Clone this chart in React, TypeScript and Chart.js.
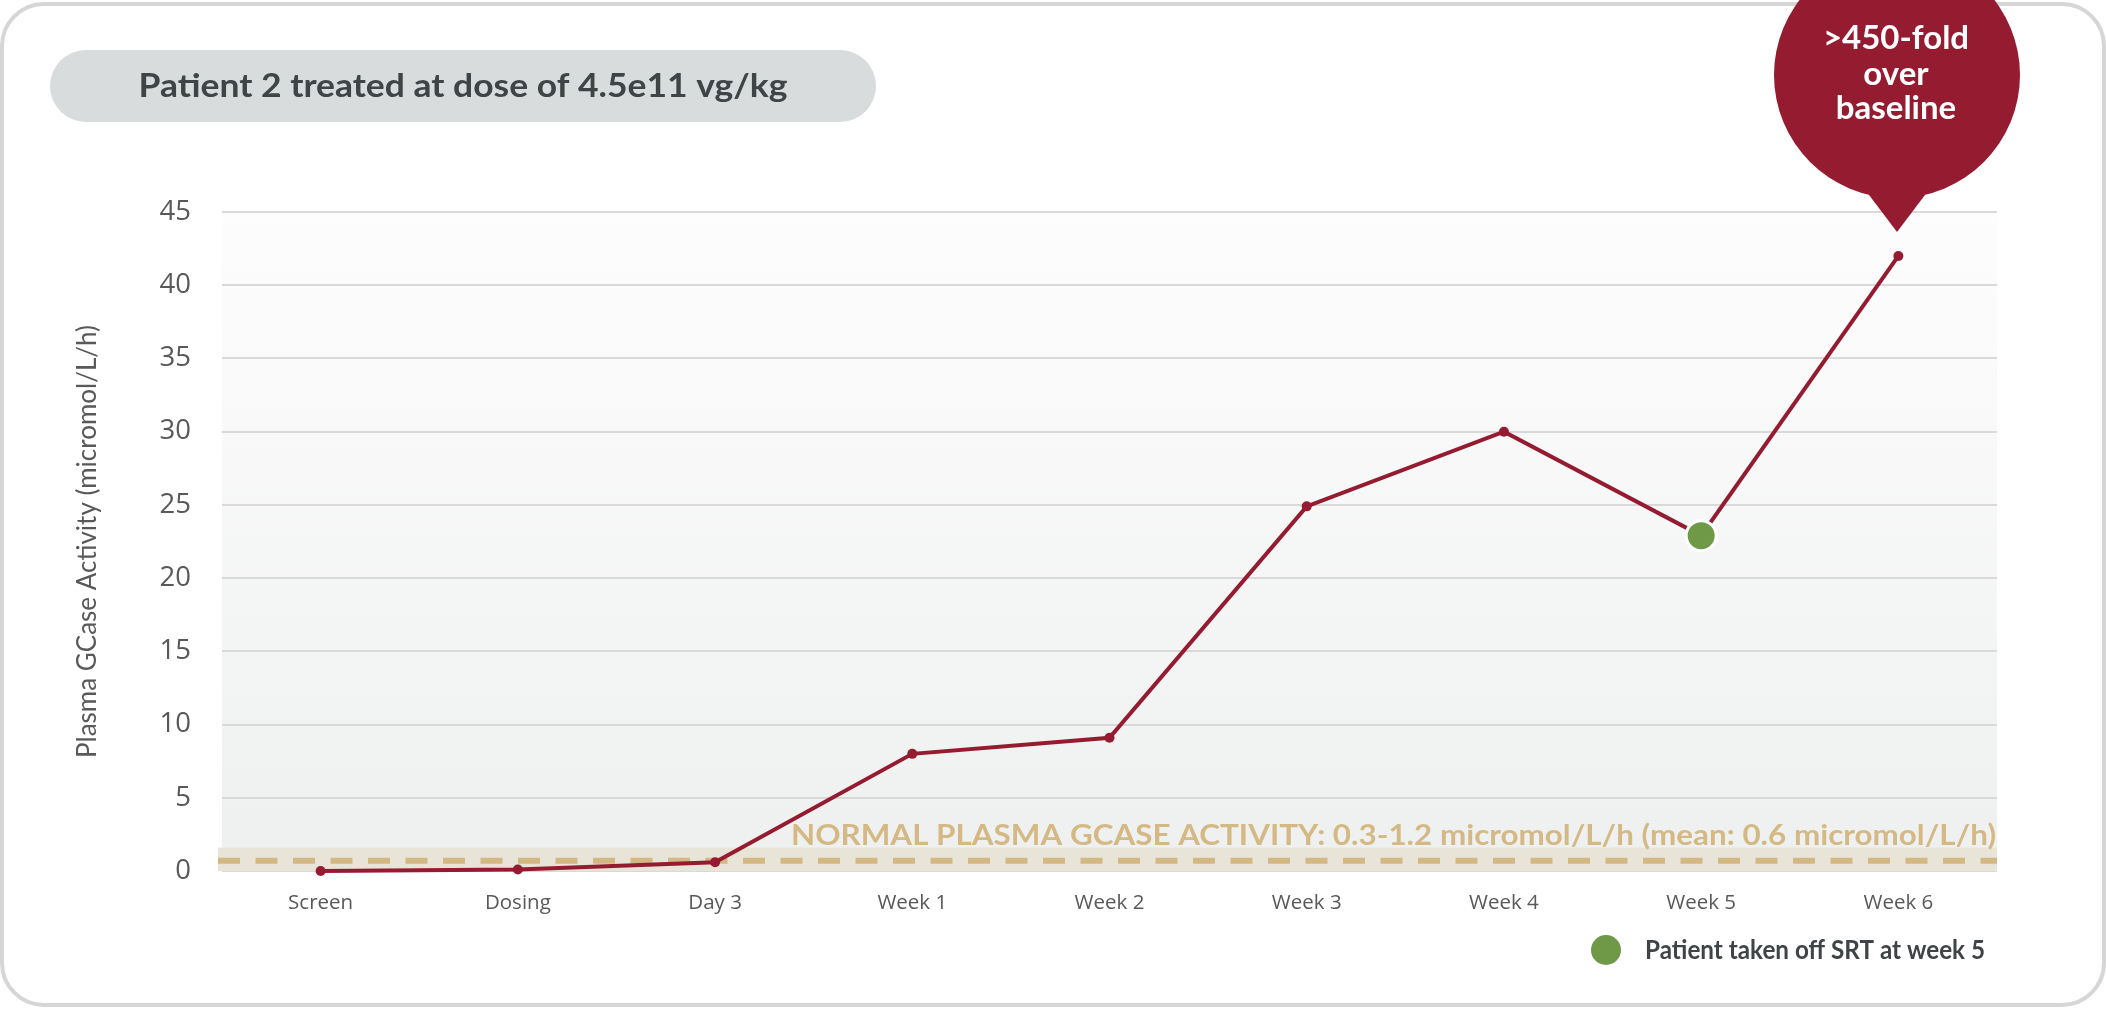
import React, { useEffect, useRef } from 'react';
import { Chart, registerables } from 'chart.js';

Chart.register(...registerables);

// ---------- data ----------
const categories = ['Screen', 'Dosing', 'Day 3', 'Week 1', 'Week 2', 'Week 3', 'Week 4', 'Week 5', 'Week 6'];
const gcaseValues = [0.0, 0.1, 0.6, 8.0, 9.1, 24.9, 30.0, 22.9, 42.0];
const yMin = 0;
const yMax = 45;
const yStep = 5;
const normalBandLow = 0;
const normalBandHigh = 1.6;
const normalMean = 0.7;
const srtOffIndex = 7;

const titleText = 'Patient 2 treated at dose of 4.5e11 vg/kg';
const yAxisTitle = 'Plasma GCase Activity (micromol/L/h)';
const normalText = 'NORMAL PLASMA GCASE ACTIVITY: 0.3-1.2 micromol/L/h (mean: 0.6 micromol/L/h)';
const calloutLines = ['>450-fold', 'over', 'baseline'];
const legendText = 'Patient taken off SRT at week 5';

// ---------- styles ----------
const W = 2107;
const H = 1009;
const RED = '#951b31';
const GREEN = '#6f9946';
const TAN = '#d3b883';
const BAND = '#e8e4d8';
const DARK = '#3f4446';
const GREY_TXT = '#595959';

function fitText(ctx: CanvasRenderingContext2D, text: string, x: number, y: number, width: number, align: 'left' | 'center' | 'right') {
  const w = ctx.measureText(text).width;
  const sx = width / w;
  let x0 = x;
  if (align === 'center') x0 = x - width / 2;
  if (align === 'right') x0 = x - width;
  ctx.save();
  ctx.translate(x0, y);
  ctx.scale(sx, 1);
  ctx.textAlign = 'left';
  ctx.fillText(text, 0, 0);
  ctx.restore();
}

function roundRect(ctx: CanvasRenderingContext2D, x: number, y: number, w: number, h: number, r: number) {
  ctx.beginPath();
  ctx.moveTo(x + r, y);
  ctx.lineTo(x + w - r, y);
  ctx.arcTo(x + w, y, x + w, y + r, r);
  ctx.lineTo(x + w, y + h - r);
  ctx.arcTo(x + w, y + h, x + w - r, y + h, r);
  ctx.lineTo(x + r, y + h);
  ctx.arcTo(x, y + h, x, y + h - r, r);
  ctx.lineTo(x, y + r);
  ctx.arcTo(x, y, x + r, y, r);
  ctx.closePath();
}

const decorPlugin = {
  id: 'decor',
  beforeDraw(chart: any) {
    const { ctx, chartArea } = chart;
    ctx.save();
    ctx.fillStyle = '#ffffff';
    ctx.fillRect(0, 0, W, H);
    // card
    roundRect(ctx, 2, 4, W - 5, H - 8, 42);
    ctx.lineWidth = 4;
    ctx.strokeStyle = '#d6d6d6';
    ctx.stroke();
    // plot background gradient
    const g = ctx.createLinearGradient(0, chartArea.top, 0, chartArea.bottom);
    g.addColorStop(0, '#fdfdfd');
    g.addColorStop(1, '#eef0ef');
    ctx.fillStyle = g;
    ctx.fillRect(chartArea.left, chartArea.top, chartArea.right - chartArea.left, chartArea.bottom - chartArea.top);
    // title pill
    roundRect(ctx, 50, 50, 826, 72, 36);
    ctx.fillStyle = '#d8dcdc';
    ctx.fill();
    ctx.fillStyle = DARK;
    ctx.font = 'bold 33px Lato';
    ctx.textBaseline = 'alphabetic';
    fitText(ctx, titleText, 463, 97, 649, 'center');
    ctx.restore();
  },
  beforeDatasetsDraw(chart: any) {
    const { ctx, chartArea, scales } = chart;
    const y = scales.y;
    ctx.save();
    const left = chartArea.left - 4;
    const yTop = y.getPixelForValue(normalBandHigh);
    const yBot = y.getPixelForValue(normalBandLow);
    ctx.fillStyle = BAND;
    ctx.fillRect(left, yTop, chartArea.right - left, yBot - yTop);
    const yMean = y.getPixelForValue(normalMean);
    ctx.strokeStyle = TAN;
    ctx.lineWidth = 6;
    ctx.setLineDash([22, 15.5]);
    ctx.beginPath();
    ctx.moveTo(left, yMean);
    ctx.lineTo(chartArea.right, yMean);
    ctx.stroke();
    ctx.setLineDash([]);
    ctx.fillStyle = '#d4b985';
    ctx.font = 'bold 29px Lato';
    ctx.textBaseline = 'alphabetic';
    fitText(ctx, normalText, chartArea.right - 1, 845, 1205, 'right');
    ctx.restore();
  },
  afterDraw(chart: any) {
    const { ctx } = chart;
    ctx.save();
    // callout bubble
    const cx = 1897;
    const cy = 75;
    const r = 123;
    ctx.fillStyle = RED;
    ctx.beginPath();
    ctx.arc(cx, cy, r, 0, Math.PI * 2);
    ctx.fill();
    ctx.beginPath();
    ctx.moveTo(cx - 34, cy + 112);
    ctx.lineTo(cx + 34, cy + 112);
    ctx.lineTo(cx, cy + 157);
    ctx.closePath();
    ctx.fill();
    ctx.fillStyle = '#ffffff';
    ctx.font = 'bold 33px Lato';
    ctx.textAlign = 'center';
    ctx.textBaseline = 'alphabetic';
    const baselines = [49, 85, 119];
    calloutLines.forEach((t, i) => ctx.fillText(t, cx - 1, baselines[i]));
    // legend
    ctx.fillStyle = GREEN;
    ctx.beginPath();
    ctx.arc(1606, 950, 15, 0, Math.PI * 2);
    ctx.fill();
    ctx.fillStyle = DARK;
    ctx.font = 'bold 26px Lato';
    ctx.textAlign = 'left';
    fitText(ctx, legendText, 1645, 959, 340, 'left');
    ctx.restore();
  },
};

export default function App() {
  const canvasRef = useRef<HTMLCanvasElement | null>(null);

  useEffect(() => {
    let chart: Chart | null = null;
    let cancelled = false;
    const make = () => {
      if (cancelled || !canvasRef.current) return;
      chart = new Chart(canvasRef.current, {
        type: 'line',
        data: {
          labels: categories,
          datasets: [
            {
              label: 'Plasma GCase Activity',
              data: gcaseValues,
              borderColor: RED,
              borderWidth: 4,
              tension: 0,
              fill: false,
              pointRadius: gcaseValues.map((_, i) => (i === srtOffIndex ? 15 : 5)),
              pointBackgroundColor: gcaseValues.map((_, i) => (i === srtOffIndex ? GREEN : RED)),
              pointBorderColor: gcaseValues.map((_, i) => (i === srtOffIndex ? '#ffffff' : RED)),
              pointBorderWidth: gcaseValues.map((_, i) => (i === srtOffIndex ? 3 : 0)),
              clip: false as any,
            },
          ],
        },
        options: {
          animation: false,
          responsive: false,
          devicePixelRatio: 1,
          layout: { padding: { left: 0, top: 212, right: 110, bottom: 0 } },
          plugins: {
            legend: { display: false },
            tooltip: { enabled: false },
          },
          scales: {
            x: {
              offset: true,
              grid: { display: false, drawTicks: false },
              border: { display: false },
              ticks: {
                color: GREY_TXT,
                font: { family: 'Open Sans', size: 20.5 },
                padding: 20,
                maxRotation: 0,
              },
              afterFit: (s: any) => {
                s.height = H - 871;
              },
            },
            y: {
              min: yMin,
              max: yMax,
              grid: { color: '#d9d9d9', lineWidth: 2, drawTicks: false },
              border: { display: false },
              ticks: {
                stepSize: yStep,
                color: GREY_TXT,
                font: { family: 'Open Sans', size: 27.5 },
                padding: 31,
              },
              title: {
                display: true,
                text: yAxisTitle,
                color: GREY_TXT,
                font: { family: 'Lato', size: 26 },
                padding: { top: 72, bottom: 0 },
              },
              afterFit: (s: any) => {
                s.width = 222;
              },
            },
          },
        },
        plugins: [decorPlugin],
      });
    };
    const fonts = (document as any).fonts;
    if (fonts && fonts.load) {
      Promise.all([
        fonts.load('bold 30px Lato'),
        fonts.load('21px Lato'),
        fonts.load('27px "Open Sans"'),
      ]).then(make, make);
    } else {
      make();
    }
    return () => {
      cancelled = true;
      if (chart) chart.destroy();
    };
  }, []);

  return (
    <div style={{ position: 'absolute', left: 0, top: 0, width: W, height: H }}>
      <canvas ref={canvasRef} width={W} height={H} style={{ display: 'block', width: W, height: H }} />
    </div>
  );
}
